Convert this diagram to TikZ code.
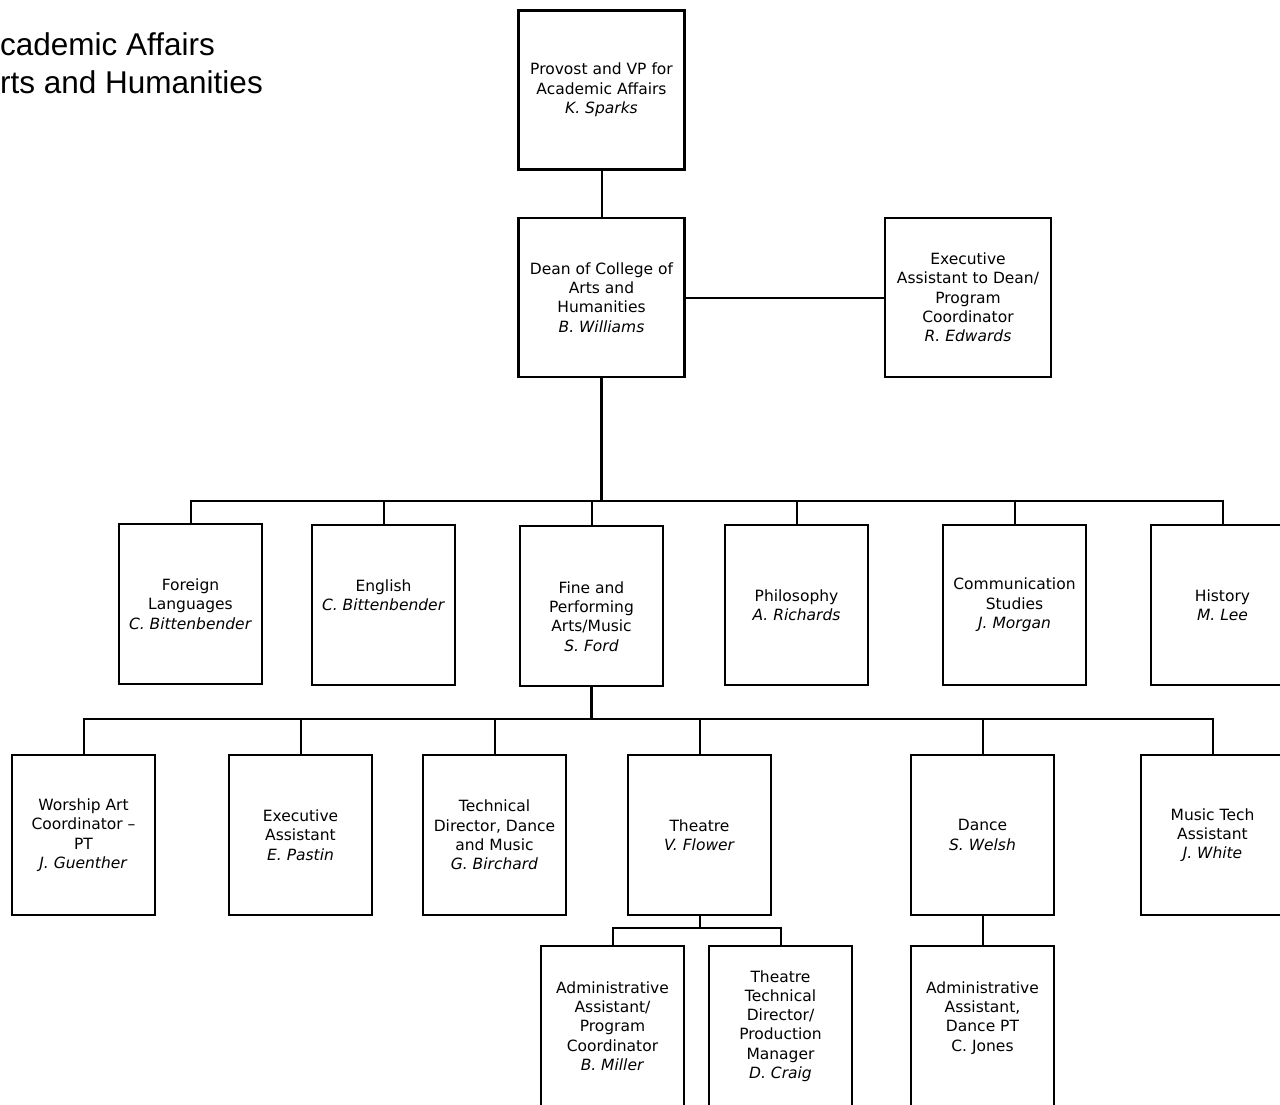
\documentclass[tikz,border=0pt]{standalone}
\usepackage{fontspec}
\setmainfont{DejaVu Sans}
\newfontfamily\headfont{Liberation Sans}
\newcommand{\boxfont}{\fontsize{15.5}{19.3}\selectfont}
\newcommand{\headsize}{\fontsize{31.5}{38}\selectfont}
\tikzset{
  orgbox/.style={draw, line width=2.5pt, align=center, font=\boxfont, inner sep=1pt,
    minimum width=143pt, minimum height=160pt},
  topbox/.style={orgbox, minimum width=166pt, minimum height=159pt},
  link/.style={line width=2pt},
  trunk/.style={line width=2.6pt}
}
\begin{document}
\begin{tikzpicture}[x=1pt, y=-1pt]
    \useasboundingbox (0,0) rectangle (1280,1104);

    % heading (cut at the left edge)
    \node[anchor=base west, inner sep=0pt, font=\headfont\headsize] (head1) at (0,55) {cademic Affairs};
    \node[anchor=base west, inner sep=0pt, font=\headfont\headsize] (head2) at (0,93) {rts and Humanities};

    % top of the chart
    \node[topbox] (provost) at (601.5, 90) {Provost and VP for\\Academic Affairs\\\textit{K. Sparks}};
    \node[topbox] (dean) at (601.5, 297.5) {Dean of College of\\Arts and\\Humanities\\\textit{B. Williams}};
    \node[topbox] (execdean) at (968, 297.5) {Executive\\Assistant to Dean/\\Program\\Coordinator\\\textit{R. Edwards}};

    % departments
    \node[orgbox] (foreign) at (190.5, 604) {Foreign\\Languages\\\textit{C. Bittenbender}};
    \node[orgbox] (english) at (383.5, 605) {English\\\textit{C. Bittenbender}\\\mbox{}};
    \node[orgbox] (fpa) at (591.5, 606) {\strut\\Fine and\\Performing\\Arts/Music\\\textit{S. Ford}};
    \node[orgbox] (philosophy) at (796.5, 605) {Philosophy\\\textit{A. Richards}};
    \node[orgbox] (comm) at (1014.5, 605) {Communication\\Studies\\\textit{J. Morgan}};
    \node[orgbox] (history) at (1222.5, 605) {History\\\textit{M. Lee}};

    % fine and performing arts staff
    \node[orgbox] (worship) at (83.5, 835) {Worship Art\\Coordinator --\\PT\\\textit{J. Guenther}};
    \node[orgbox] (execasst) at (300.5, 835) {Executive\\Assistant\\\textit{E. Pastin}};
    \node[orgbox] (techdir) at (494.5, 835) {Technical\\Director, Dance\\and Music\\\textit{G. Birchard}};
    \node[orgbox] (theatre) at (699.5, 835) {Theatre\\\textit{V. Flower}};
    \node[orgbox] (dance) at (982.5, 835) {Dance\\\textit{S. Welsh}};
    \node[orgbox] (musictech) at (1212.5, 835) {Music Tech\\Assistant\\\textit{J. White}};

    % theatre and dance staff
    \node[orgbox] (adminasst) at (612.5, 1026) {Administrative\\Assistant/\\Program\\Coordinator\\\textit{B. Miller}};
    \node[orgbox] (theatretech) at (780.5, 1026) {Theatre\\Technical\\Director/\\Production\\Manager\\\textit{D. Craig}};
    \node[orgbox] (danceadmin) at (982.5, 1026) {Administrative\\Assistant,\\Dance PT\\C. Jones\\\mbox{}};

    % connectors
    \coordinate (busdept) at (601.5, 501);
    \coordinate (busfpa) at (591.5, 719);
    \coordinate (bustheatre) at (699.5, 928);

    \draw[link] (provost) -- (dean);
    \draw[link] (dean) -- (execdean);
    \draw[trunk] (dean) -- (busdept);
    \foreach \n in {foreign, english, fpa, philosophy, comm, history}
        \draw[link] (\n.north) |- (busdept);

    \draw[trunk] (fpa) -- (busfpa);
    \foreach \n in {worship, execasst, techdir, theatre, dance, musictech}
        \draw[link] (\n.north) |- (busfpa);

    \draw[link] (theatre) -- (bustheatre);
    \draw[link] (adminasst.north) |- (bustheatre);
    \draw[link] (theatretech.north) |- (bustheatre);
    \draw[link] (dance) -- (danceadmin);
\end{tikzpicture}
\end{document}
